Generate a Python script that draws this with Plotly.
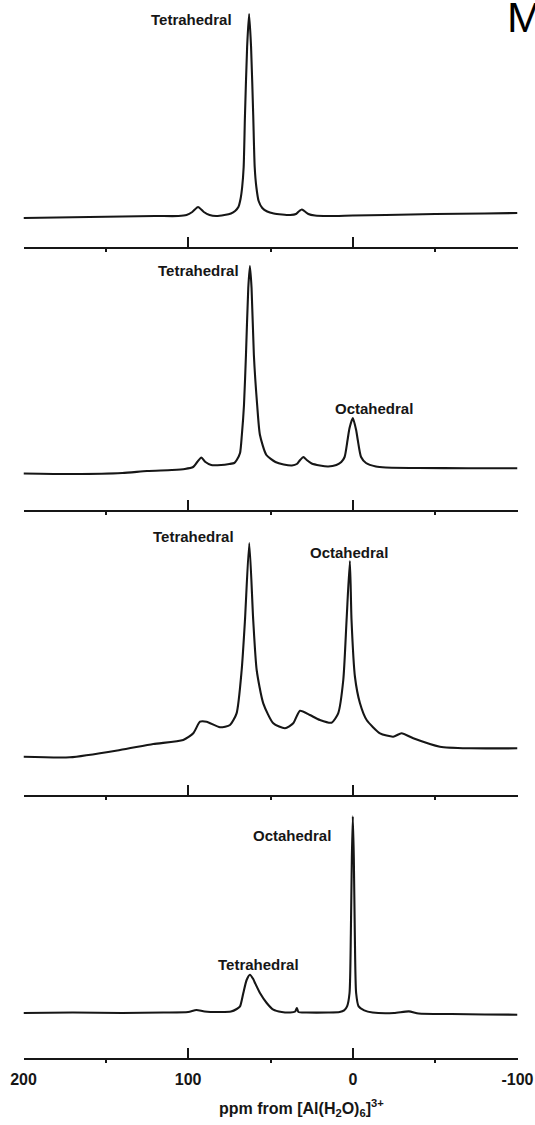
import plotly.graph_objects as go

# ---------------- data ----------------
# x: chemical shift (ppm); y: signal height (arbitrary units above the axis line)
ppm_1 = [200, 180, 160, 140, 120, 106, 101, 97.5, 94, 90.5, 87, 83, 78, 74, 71.5, 69.5,
         68.2, 67.2, 66.3, 65.5, 64.2, 63, 61.8, 60.5, 59.6, 58.6, 57.2, 55, 52, 48, 43,
         38, 34.5, 32.5, 31, 29.5, 27, 23, 15, 0, -20, -50, -80, -100]
int_1 = [29, 29.5, 30, 30.5, 31, 31, 32, 35, 40, 35, 32, 31, 32, 33.5, 36, 40,
         48, 60, 80, 132, 200, 233, 200, 132, 80, 60, 46, 39, 35.5, 33.5, 32.5,
         32, 33, 36, 37.5, 36, 33, 31.5, 31, 31.5, 32, 33, 33.5, 34]

ppm_2 = [200, 170, 140, 125, 110, 102, 97, 94.5, 92, 89.5, 86, 80, 75, 72, 70.5, 68.5,
         67.4, 66.1, 64.9, 63.5, 62.5, 61.5, 60.1, 58.1, 56.4, 52.5, 47, 42, 37, 34, 32,
         30, 28, 25, 20, 15, 10, 7, 5, 3.2, 2, 0, -2, -3, -5, -8, -14, -20, -40, -70, -100]
int_2 = [36.5, 36, 37, 39, 40, 41, 43, 48, 52.5, 48, 45, 45, 46, 47, 50, 57,
         75, 105, 155, 222, 244, 222, 155, 105, 75, 55, 48, 45.5, 44.5, 46, 50,
         53, 50, 46.5, 44.5, 43.5, 45, 48, 53, 70, 82, 92, 80, 70, 53, 47, 43.5, 42.5, 42, 41.8, 41.7]

ppm_3 = [200, 171.8, 141.4, 121.2, 103, 96.9, 92.8, 88.8, 80.7, 74.6, 70.6, 67.5, 65.5,
         62.9, 60.5, 58.4, 54.4, 48.3, 41.2, 36.2, 32.1, 26.1, 20, 12.9, 8.9, 5.8, 3.8,
         1.8, 0.8, -1.3, -4.3, -8.4, -16.5, -24.5, -29.6, -36.7, -52.9, -71.1, -100]
int_3 = [38.3, 37.7, 45, 51, 55, 61.7, 73.3, 73.3, 67.7, 70, 81.7, 125, 175,
         252, 175, 125, 91.7, 71.7, 66.7, 71.7, 84.3, 80, 75, 72.3, 81.7, 115, 175,
         234, 175, 118, 92, 75, 61.7, 58.3, 61.7, 56.7, 48.3, 46.7, 46.7]

ppm_4 = [200, 170, 140, 115, 100, 95, 90, 80, 74, 70.5, 68.5, 66.5, 64.5, 62.5, 60.5,
         59.4, 56.4, 52.3, 48.3, 43.2, 38, 35, 34, 33, 28, 15, 8, 5.3, 3.5, 2, 1.2, 0.6,
         0, -0.6, -1.2, -2, -3.5, -6.9, -12, -25, -34, -40, -60, -80, -100]
int_4 = [45, 45.5, 45, 45.5, 46, 48, 46.5, 46, 46.5, 49, 51.6, 65, 78, 83.3, 79,
         75, 65, 55, 48.3, 46, 45.5, 46.5, 50, 46, 45.5, 45.5, 46, 47.6, 51.6, 65, 125, 200,
         241.6, 200, 125, 65, 51.6, 47.6, 45.5, 45, 46.6, 44.5, 44, 43.5, 43.3]

tick_vals = [200, 100, 0, -100]
tick_text = ["200", "100", "0", "-100"]

# peak labels: (panel, text, ppm, height)
labels = [
    (1, "Tetrahedral", 97.7, 228),
    (2, "Tetrahedral", 94.0, 239),
    (2, "Octahedral", -12.8, 101),
    (3, "Tetrahedral", 96.9, 259),
    (3, "Octahedral", 2.4, 243),
    (4, "Octahedral", 36.7, 222),
    (4, "Tetrahedral", 57.0, 93),
]

# ---------------- layout geometry (page pixels) ----------------
W, H = 535, 1125
X0, X1 = 23.5, 517.5
panels = [  # (top_px, axis_px)
    (0, 247),
    (260, 510),
    (525, 795),
    (805, 1058),
]
INK = "#161616"
FONT = "Liberation Sans"

fig = go.Figure()
series = [(ppm_1, int_1), (ppm_2, int_2), (ppm_3, int_3), (ppm_4, int_4)]
for i, (xs, ys) in enumerate(series, start=1):
    fig.add_trace(go.Scatter(
        x=xs, y=ys, mode="lines",
        line=dict(color=INK, width=2.1, shape="spline", smoothing=0.6),
        xaxis=f"x{i}" if i > 1 else "x", yaxis=f"y{i}" if i > 1 else "y",
        showlegend=False, hoverinfo="skip"))

layout = dict(
    width=W, height=H,
    margin=dict(l=0, r=0, t=0, b=0, autoexpand=False),
    paper_bgcolor="white", plot_bgcolor="white",
    showlegend=False,
)
for i, (top, axis) in enumerate(panels, start=1):
    xname = "xaxis" if i == 1 else f"xaxis{i}"
    yname = "yaxis" if i == 1 else f"yaxis{i}"
    ysuffix = "y" if i == 1 else f"y{i}"
    xsuffix = "x" if i == 1 else f"x{i}"
    layout[xname] = dict(
        domain=[X0 / W, X1 / W], range=[200, -100], anchor=ysuffix,
        automargin=False,
        showline=True, linecolor=INK, linewidth=2,
        ticks="inside", ticklen=10, tickwidth=2, tickcolor=INK,
        tickvals=tick_vals, ticktext=tick_text,
        showticklabels=(i == 4),
        tickfont=dict(family=FONT, size=16, color=INK, weight="bold"),
        ticklabelstandoff=6,
        minor=dict(tickvals=[150, 50, -50], ticks="outside", ticklen=3,
                   tickwidth=1.5, tickcolor=INK, showgrid=False),
        showgrid=False, zeroline=False, fixedrange=True,
    )
    layout[yname] = dict(
        domain=[1 - axis / H, 1 - top / H], range=[0, axis - top], anchor=xsuffix,
        automargin=False,
        visible=False, showgrid=False, zeroline=False, fixedrange=True,
    )
fig.update_layout(**layout)

anns = []
for panel, text, px, hy in labels:
    anns.append(dict(
        x=px, y=hy, xref="x" if panel == 1 else f"x{panel}",
        yref="y" if panel == 1 else f"y{panel}",
        text=text, showarrow=False, xanchor="center", yanchor="middle",
        font=dict(family=FONT, size=15, color=INK, weight="bold")))
# axis title
anns.append(dict(
    x=301 / W, y=1 - 1108 / H, xref="paper", yref="paper",
    text="ppm from [Al(H<sub>2</sub>O)<sub>6</sub>]<sup>3+</sup>",
    showarrow=False, xanchor="center", yanchor="middle",
    font=dict(family=FONT, size=16, color=INK, weight="bold")))
# stray letter at top-right corner
anns.append(dict(
    x=505 / W, y=1 - 17.5 / H, xref="paper", yref="paper",
    text="M", showarrow=False, xanchor="left", yanchor="middle",
    font=dict(family=FONT, size=43, color="black")))
fig.update_layout(annotations=anns)

fig.write_html(
    "out.html",
    config={"displayModeBar": False},
    post_script="document.body.style.margin='0';document.body.style.padding='0';"
                "document.documentElement.style.overflow='hidden';",
)
